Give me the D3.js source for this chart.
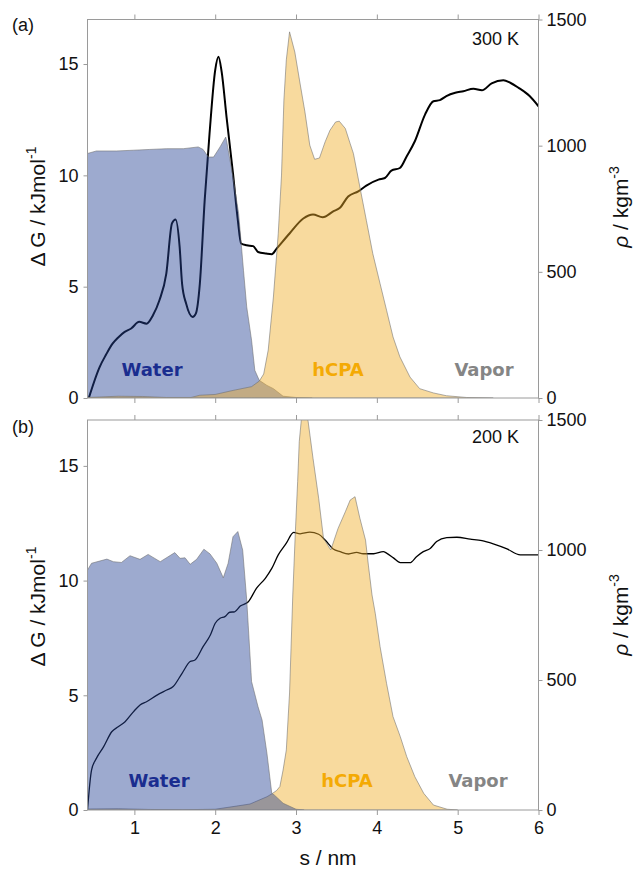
<!DOCTYPE html>
<html>
<head>
<meta charset="utf-8">
<script src="https://cdn.jsdelivr.net/npm/d3@7/dist/d3.min.js"></script>
<style>
  html, body { margin: 0; padding: 0; background: #fff; }
  svg { display: block; font-family: "Liberation Sans", Arial, sans-serif; }
</style>
</head>
<body>
<svg id="chart" width="636" height="871"></svg>
<script>
// ---- data: s in nm, free energy in kJ/mol, densities in kg/m^3 ----
const xTicks = [1, 2, 3, 4, 5, 6];
const dGTicks = [0, 5, 10, 15];
const rhoTicks = [0, 500, 1000, 1500];
const phaseNames = ["Water", "hCPA", "Vapor"];
const panelLetters = ["(a)", "(b)"];
const temperatures = ["300 K", "200 K"];

// panel (a), 300 K
const s_dG300 = [0.436,0.57,0.65,0.73,0.80,0.88,0.96,1.06,1.15,1.23,1.31,1.395,1.465,1.51,1.56,1.59,1.64,1.72,1.76,1.81,1.87,1.93,2.00,2.04,2.08,2.14,2.22,2.28,2.32,2.39,2.47,2.53,2.63,2.70,2.76,2.92,3.09,3.21,3.33,3.46,3.54,3.645,3.77,3.87,4.02,4.10,4.18,4.285,4.37,4.47,4.596,4.70,4.78,4.86,4.97,5.07,5.195,5.30,5.42,5.565,5.65,5.75,5.89,6.00];
const dG300   = [0,1.39,1.95,2.44,2.72,2.97,3.12,3.42,3.34,3.72,4.39,5.59,7.84,8.02,6.79,5.14,4.24,3.64,3.79,5.14,8.89,11.88,14.73,15.33,14.65,12.63,10.09,7.99,6.94,6.86,6.82,6.56,6.49,6.46,6.71,7.39,8.06,8.24,8.12,8.38,8.53,9.05,9.28,9.54,9.81,9.88,10.21,10.33,10.86,11.53,12.73,13.33,13.38,13.56,13.71,13.78,13.89,13.82,14.13,14.27,14.16,13.94,13.56,13.10];

const s_water300 = [0.42,0.53,0.78,0.99,1.19,1.40,1.605,1.79,1.85,1.915,1.98,2.06,2.13,2.14,2.22,2.29,2.35,2.39,2.45,2.49,2.545,2.64,2.72,2.84,3.0,3.2];
const water300   = [969,979,979,982,985,988,988,995,985,955,955,995,1034,1021,876,731,506,361,229,110,70,50,37,7,2,0];

const s_hcpa300 = [0.42,0.8,1.1,1.4,1.7,1.81,2.0,2.22,2.45,2.545,2.60,2.656,2.72,2.78,2.82,2.85,2.88,2.92,2.985,3.047,3.11,3.17,3.23,3.29,3.36,3.42,3.49,3.535,3.61,3.67,3.71,3.79,3.87,3.95,4.04,4.12,4.20,4.285,4.41,4.53,4.70,4.86,5.11,5.44];
const hcpa300   = [2,7,6,2,2,11,14,30,45,67,95,190,400,651,880,1180,1340,1451,1371,1252,1134,1002,946,951,1015,1061,1094,1097,1068,1008,969,836,704,572,453,348,242,163,83,37,20,9,2,0];

// panel (b), 200 K
const s_dG200 = [0.42,0.47,0.53,0.62,0.72,0.80,0.885,0.99,1.07,1.15,1.28,1.40,1.48,1.59,1.69,1.75,1.85,1.94,2.00,2.06,2.12,2.18,2.24,2.31,2.41,2.51,2.62,2.70,2.78,2.88,2.97,3.05,3.17,3.28,3.36,3.46,3.545,3.65,3.75,3.83,3.96,4.08,4.12,4.205,4.29,4.41,4.49,4.575,4.66,4.74,4.865,4.99,5.155,5.30,5.44,5.61,5.775,5.9,6.0];
const dG200   = [0,1.74,2.25,2.76,3.41,3.63,3.85,4.29,4.58,4.72,5.01,5.23,5.38,5.96,6.47,6.54,7.12,7.63,8.14,8.36,8.43,8.62,8.64,8.89,9.08,9.66,10.1,10.53,11.12,11.63,12.1,12.04,12.11,12.02,11.77,11.38,11.26,11.16,11.23,11.17,11.17,11.26,11.2,10.99,10.78,10.78,11.04,11.26,11.4,11.7,11.87,11.89,11.81,11.74,11.6,11.38,11.12,11.12,11.12];

const s_water200 = [0.42,0.47,0.66,0.74,0.84,0.946,1.07,1.17,1.32,1.50,1.565,1.627,1.69,1.77,1.86,1.936,2.02,2.10,2.16,2.22,2.28,2.34,2.39,2.45,2.53,2.58,2.64,2.70,2.73,2.84,3.0,3.1];
const water200   = [923,949,965,955,952,978,964,983,955,990,968,970,945,964,1003,985,949,893,949,1051,1071,1000,808,494,397,346,218,64,58,26,3,0];

const s_hcpa200 = [0.42,0.8,1.2,1.6,2.0,2.22,2.43,2.64,2.70,2.76,2.80,2.84,2.88,2.92,2.96,2.99,3.02,3.04,3.09,3.15,3.21,3.28,3.34,3.43,3.52,3.61,3.67,3.73,3.79,3.86,3.895,3.94,3.98,4.04,4.12,4.20,4.29,4.37,4.47,4.58,4.70,4.87,5.0];
const hcpa200   = [4,5,2,1,3,13,23,51,62,75,90,154,231,450,827,1058,1263,1417,1580,1494,1353,1199,1045,1000,1083,1147,1192,1205,1122,1038,942,827,757,628,487,359,282,205,128,64,19,3,0];

// ---- layout ----
const svg = d3.select("#chart");
const left = 87.5, right = 538.5;
const panels = [
  { top: 19.5, bottom: 398, dGs: s_dG300, dG: dG300, ws: s_water300, w: water300, hs: s_hcpa300, h: hcpa300,
    lineW: 2, waterOnTop: false, letterY: 31, tempY: 45, labelY: 376, titleLY: 206.5, titleRY: 207 },
  { top: 420, bottom: 810, dGs: s_dG200, dG: dG200, ws: s_water200, w: water200, hs: s_hcpa200, h: hcpa200,
    lineW: 1.3, waterOnTop: true, letterY: 433, tempY: 443, labelY: 787, titleLY: 606.5, titleRY: 615 }
];

const x = d3.scaleLinear().domain([0.42, 6]).range([left, right]);
const axisColor = "#9a9a9a";
const waterFill = "rgb(37,66,148)", hcpaFill = "rgb(239,173,39)";
const fillOpacity = 0.45;

panels.forEach((p, i) => {
  const yG = d3.scaleLinear().domain([0, 17]).range([p.bottom, p.top]);
  const yR = d3.scaleLinear().domain([0, 1500]).range([p.bottom, p.top]);
  const g = svg.append("g");

  const clipId = "clip" + i;
  svg.append("clipPath").attr("id", clipId).append("rect")
    .attr("x", left).attr("y", p.top).attr("width", right - left).attr("height", p.bottom - p.top);

  const plot = g.append("g").attr("clip-path", `url(#${clipId})`);

  // free-energy profile (drawn first so the translucent densities tint it)
  const line = d3.line().x(d => x(d[0])).y(d => yG(d[1])).curve(d3.curveMonotoneX);
  plot.append("path")
    .attr("d", line(d3.zip(p.dGs, p.dG)))
    .attr("fill", "none").attr("stroke", "#000").attr("stroke-width", p.lineW)
    .attr("stroke-linejoin", "round");

  const area = d3.area().x(d => x(d[0])).y0(yR(0)).y1(d => yR(d[1]));
  const waterD = area(d3.zip(p.ws, p.w));
  const hcpaD = area(d3.zip(p.hs, p.h));
  const layers = p.waterOnTop
    ? [[hcpaD, hcpaFill], [waterD, waterFill]]
    : [[waterD, waterFill], [hcpaD, hcpaFill]];
  layers.forEach(([d, c]) => {
    plot.append("path").attr("d", d)
      .attr("fill", c).attr("fill-opacity", fillOpacity)
      .attr("stroke", "#6e6e6e").attr("stroke-opacity", 0.8).attr("stroke-width", 0.7);
  });

  // frame
  g.append("rect").attr("x", left).attr("y", p.top).attr("width", right - left).attr("height", p.bottom - p.top)
    .attr("fill", "none").attr("stroke", axisColor).attr("stroke-width", 1);

  // axes
  const styleAxis = sel => {
    sel.select(".domain").remove();
    sel.selectAll(".tick line").attr("stroke", axisColor);
    sel.selectAll(".tick text").attr("fill", "#111").style("font-size", "18px")
      .style("font-family", "'Liberation Sans', Arial, sans-serif");
  };
  g.append("g").attr("transform", `translate(0,${p.top})`)
    .call(d3.axisTop(x).tickValues(xTicks).tickSize(5).tickFormat(""))
    .call(styleAxis);
  g.append("g").attr("transform", `translate(0,${p.bottom})`)
    .call(d3.axisBottom(x).tickValues(xTicks).tickSize(5).tickPadding(6)
      .tickFormat(i === 0 ? "" : d3.format("d")))
    .call(styleAxis);
  g.append("g").attr("transform", `translate(${left},0)`)
    .call(d3.axisLeft(yG).tickValues(dGTicks).tickSize(4).tickPadding(5).tickFormat(d3.format("d")))
    .call(styleAxis);
  g.append("g").attr("transform", `translate(${right},0)`)
    .call(d3.axisRight(yR).tickValues(rhoTicks).tickSize(4).tickPadding(4).tickFormat(d3.format("d")))
    .call(styleAxis);

  // axis titles
  const lt = g.append("text")
    .attr("transform", `translate(45,${p.titleLY}) rotate(-90)`)
    .attr("text-anchor", "middle").style("font-size", "21px").attr("fill", "#111");
  lt.append("tspan").text("\u0394 G / kJmol");
  lt.append("tspan").text("-1").attr("dy", -9).style("font-size", "14px");

  const rt = g.append("text")
    .attr("transform", `translate(628,${p.titleRY}) rotate(-90)`)
    .attr("text-anchor", "middle").style("font-size", "21px").attr("fill", "#111");
  rt.append("tspan").text("\u03c1").style("font-style", "italic");
  rt.append("tspan").text(" / kgm");
  rt.append("tspan").text("-3").attr("dy", -9).style("font-size", "14px");

  // panel letter and temperature
  g.append("text").attr("x", 12).attr("y", p.letterY).text(panelLetters[i])
    .style("font-size", "18px").attr("fill", "#111");
  g.append("text").attr("x", 519).attr("y", p.tempY).attr("text-anchor", "end").text(temperatures[i])
    .style("font-size", "18px").attr("fill", "#111");

  // phase labels
  const labelStyle = [
    { x: i === 0 ? 152 : 159, c: "#1a2d8f" },
    { x: i === 0 ? 338 : 347, c: "#f4aa05" },
    { x: i === 0 ? 484 : 478, c: "#858585" }
  ];
  phaseNames.forEach((name, k) => {
    g.append("text").attr("x", labelStyle[k].x).attr("y", p.labelY)
      .attr("text-anchor", "middle").text(name)
      .style("font-family", "'DejaVu Sans', sans-serif").style("font-weight", "bold")
      .style("font-size", "18px").attr("fill", labelStyle[k].c);
  });
});

svg.append("text").attr("x", 328).attr("y", 865).attr("text-anchor", "middle")
  .text("s / nm").style("font-size", "21px").attr("fill", "#111");
</script>
</body>
</html>
